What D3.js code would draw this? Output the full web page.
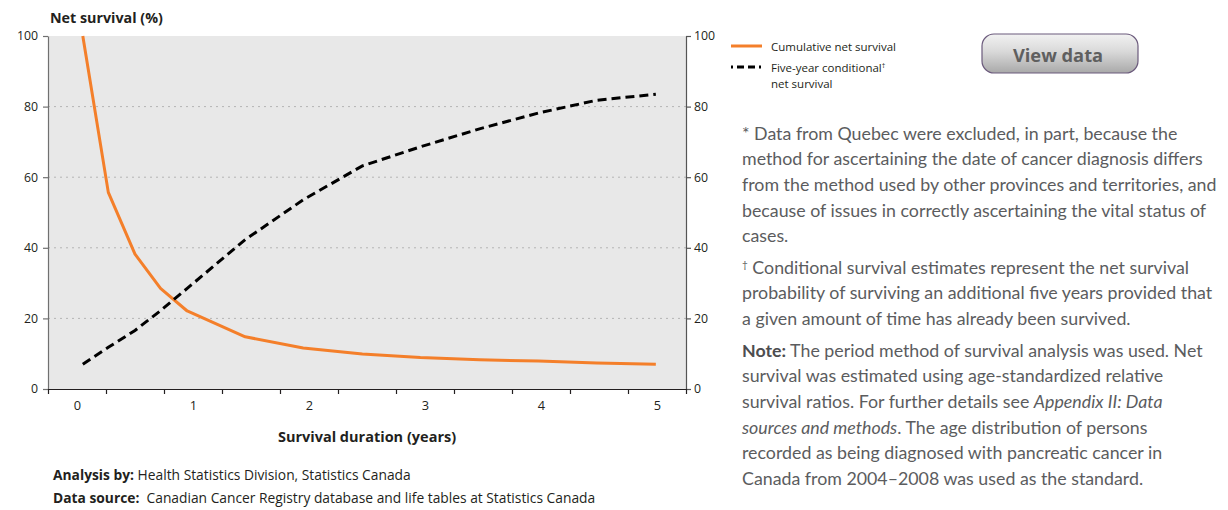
<!DOCTYPE html>
<html>
<head>
<meta charset="utf-8">
<script src="https://cdn.jsdelivr.net/npm/d3@7"></script>
<style>
  html, body { margin: 0; padding: 0; background: #ffffff; }
  svg { display: block; }
</style>
</head>
<body>
<svg id="chart" width="1228" height="510"></svg>
<script>
// Survival duration (years) at which each estimate is plotted
const years = [0.05, 0.27, 0.5, 0.72, 0.95, 1.45, 1.95, 2.46, 2.96, 3.47, 3.98, 4.48, 4.99];
// Cumulative net survival (%)
const cumulativeNet = [100, 55.7, 38.2, 28.5, 22.1, 14.8, 11.6, 9.9, 8.9, 8.3, 7.9, 7.4, 7.0];
// Five-year conditional net survival (%)
const conditionalNet = [7.0, 11.8, 16.6, 22.2, 28.5, 42.3, 53.6, 63.2, 68.6, 73.7, 78.2, 81.8, 83.5];

const yTicks = [0, 20, 40, 60, 80, 100];
const gridValues = [20, 40, 60, 80];
const yearLabels = [0, 1, 2, 3, 4, 5];
const yearTickMarks = [-0.25, 0.25, 0.75, 1.25, 1.75, 2.25, 2.75, 3.25, 3.75, 4.25, 4.75, 5.25];

const seriesNames = ["Cumulative net survival", "Five-year conditional", "net survival"];

const footnoteQuebec = [
  "* Data from Quebec were excluded, in part, because the",
  "method for ascertaining the date of cancer diagnosis differs",
  "from the method used by other provinces and territories, and",
  "because of issues in correctly ascertaining the vital status of",
  "cases."
];
const footnoteConditional = [
  " Conditional survival estimates represent the net survival",
  "probability of surviving an additional five years provided that",
  "a given amount of time has already been survived."
];
// each line is a list of [text, style] runs
const noteLines = [
  [["Note:", "b"], [" The period method of survival analysis was used. Net", ""]],
  [["survival was estimated using age-standardized relative", ""]],
  [["survival ratios. For further details see ", ""], ["Appendix II: Data", "i"]],
  [["sources and methods", "i"], [". The age distribution of persons", ""]],
  [["recorded as being diagnosed with pancreatic cancer in", ""]],
  [["Canada from 2004\u20132008 was used as the standard.", ""]]
];

const svg = d3.select("#chart");
const plot = { left: 48, right: 686, top: 36, bottom: 389 };

const x = d3.scaleLinear().domain([-0.25, 5.25]).range([plot.left, plot.right]);
const y = d3.scaleLinear().domain([0, 100]).range([plot.bottom, plot.top]);

const axisFont = "'Open Sans', 'Noto Sans', sans-serif";
const textFont = "Lato, 'Open Sans', sans-serif";

// plot background
svg.append("rect")
  .attr("x", plot.left).attr("y", plot.top)
  .attr("width", plot.right - plot.left).attr("height", plot.bottom - plot.top)
  .attr("fill", "#e8e8e8");

// dotted gridlines
svg.append("g").selectAll("line")
  .data(gridValues)
  .join("line")
  .attr("x1", plot.left).attr("x2", plot.right)
  .attr("y1", d => y(d)).attr("y2", d => y(d))
  .attr("stroke", "#b4b4b4")
  .attr("stroke-width", 1)
  .attr("stroke-dasharray", "2,4");

function styleAxis(g, color) {
  g.selectAll("path.domain").attr("stroke", color).attr("stroke-width", 1.2);
  g.selectAll(".tick line").attr("stroke", color).attr("stroke-width", 1.2);
  g.selectAll(".tick text")
    .attr("font-family", axisFont).attr("font-size", 12.3).attr("fill", "#231f20");
}

// left axis
svg.append("g")
  .attr("transform", `translate(${plot.left},0)`)
  .call(d3.axisLeft(y).tickValues(yTicks).tickSize(5).tickSizeOuter(0).tickPadding(5))
  .call(g => styleAxis(g, "#707070"));

// right axis
svg.append("g")
  .attr("transform", `translate(${plot.right},0)`)
  .call(d3.axisRight(y).tickValues(yTicks).tickSize(5).tickSizeOuter(0).tickPadding(3))
  .call(g => styleAxis(g, "#555555"));

// bottom axis: tick marks between years
svg.append("g")
  .attr("transform", `translate(0,${plot.bottom})`)
  .call(d3.axisBottom(x).tickValues(yearTickMarks).tickSize(5).tickSizeOuter(0).tickFormat(""))
  .call(g => styleAxis(g, "#231f20"));

// bottom axis: year labels
svg.append("g")
  .attr("transform", `translate(0,${plot.bottom})`)
  .call(d3.axisBottom(x).tickValues(yearLabels).tickSize(0).tickPadding(11.5).tickFormat(d3.format("d")))
  .call(g => g.select("path.domain").remove())
  .call(g => styleAxis(g, "#231f20"))
  .call(g => g.selectAll(".tick text").attr("font-size", 12.8));

// series lines
const lineGen = d3.line().x(d => x(d[0])).y(d => y(d[1]));

svg.append("path")
  .datum(d3.zip(years, cumulativeNet))
  .attr("d", lineGen)
  .attr("fill", "none")
  .attr("stroke", "#f47f2a")
  .attr("stroke-width", 3)
  .attr("stroke-linejoin", "round");

svg.append("path")
  .datum(d3.zip(years, conditionalNet))
  .attr("d", lineGen)
  .attr("fill", "none")
  .attr("stroke", "#000000")
  .attr("stroke-width", 3)
  .attr("stroke-dasharray", "9,5");

// axis titles
svg.append("text")
  .attr("x", 50).attr("y", 23)
  .attr("font-family", axisFont).attr("font-weight", 700).attr("font-size", 14.3)
  .attr("fill", "#231f20")
  .text("Net survival (%)");

svg.append("text")
  .attr("x", (plot.left + plot.right) / 2).attr("y", 442)
  .attr("text-anchor", "middle")
  .attr("font-family", axisFont).attr("font-weight", 700).attr("font-size", 14.5)
  .attr("fill", "#231f20")
  .text("Survival duration (years)");

// legend
const legend = svg.append("g").attr("font-family", axisFont).attr("font-size", 11.5).attr("fill", "#231f20");
legend.append("line").attr("x1", 731).attr("x2", 762).attr("y1", 46).attr("y2", 46)
  .attr("stroke", "#f47f2a").attr("stroke-width", 3);
legend.append("text").attr("x", 771).attr("y", 50.5).text(seriesNames[0]);
legend.append("line").attr("x1", 731).attr("x2", 762).attr("y1", 67).attr("y2", 67)
  .attr("stroke", "#000").attr("stroke-width", 3).attr("stroke-dasharray", "2,4,7,4,7,4");
const l2 = legend.append("text").attr("x", 771).attr("y", 71.5);
l2.append("tspan").text(seriesNames[1]);
l2.append("tspan").attr("font-size", 7).attr("dy", -4).text("\u2020");
legend.append("text").attr("x", 771).attr("y", 87.5).text(seriesNames[2]);

// "View data" button
const defs = svg.append("defs");
const grad = defs.append("linearGradient").attr("id", "btnFill").attr("x1", 0).attr("x2", 0).attr("y1", 0).attr("y2", 1);
grad.append("stop").attr("offset", "0%").attr("stop-color", "#f2f2f2");
grad.append("stop").attr("offset", "45%").attr("stop-color", "#d9d9d9");
grad.append("stop").attr("offset", "100%").attr("stop-color", "#a9a9a9");
svg.append("rect")
  .attr("x", 982).attr("y", 34).attr("width", 156).attr("height", 39).attr("rx", 12)
  .attr("fill", "url(#btnFill)").attr("stroke", "#6b5a7c").attr("stroke-width", 1.2);
svg.append("text")
  .attr("x", 1058).attr("y", 61.5).attr("text-anchor", "middle")
  .attr("font-family", axisFont).attr("font-weight", 700).attr("font-size", 18.3)
  .attr("fill", "#5f5f5f")
  .text("View data");

// footnotes
const notes = svg.append("g").attr("font-family", textFont).attr("font-size", 17.8).attr("fill", "#5b5c5e");
const lineStep = 25.7;
footnoteQuebec.forEach((t, i) => {
  notes.append("text").attr("x", 742).attr("y", 139.5 + i * lineStep).text(t);
});
footnoteConditional.forEach((t, i) => {
  const tx = notes.append("text").attr("x", 742).attr("y", 273.5 + i * lineStep);
  if (i === 0) tx.append("tspan").attr("font-size", 10).attr("dy", -6).text("\u2020");
  tx.append("tspan").attr("dy", i === 0 ? 6 : 0).text(t);
});
noteLines.forEach((runs, i) => {
  const tx = notes.append("text").attr("x", 742).attr("y", 356.5 + i * lineStep);
  runs.forEach(([t, s]) => {
    const sp = tx.append("tspan").text(t);
    if (s === "b") sp.attr("font-weight", 700).attr("fill", "#4d4d4f");
    if (s === "i") sp.attr("font-style", "italic");
  });
});

// source lines
const src = svg.append("g").attr("font-family", axisFont).attr("font-size", 13.8).attr("fill", "#231f20");
const s1 = src.append("text").attr("x", 53).attr("y", 480);
s1.append("tspan").attr("font-weight", 700).text("Analysis by:");
s1.append("tspan").text(" Health Statistics Division, Statistics Canada");
const s2 = src.append("text").attr("x", 53).attr("y", 503);
s2.append("tspan").attr("font-weight", 700).text("Data source:");
s2.append("tspan").text("\u00a0 Canadian Cancer Registry database and life tables at Statistics Canada");
</script>
</body>
</html>
